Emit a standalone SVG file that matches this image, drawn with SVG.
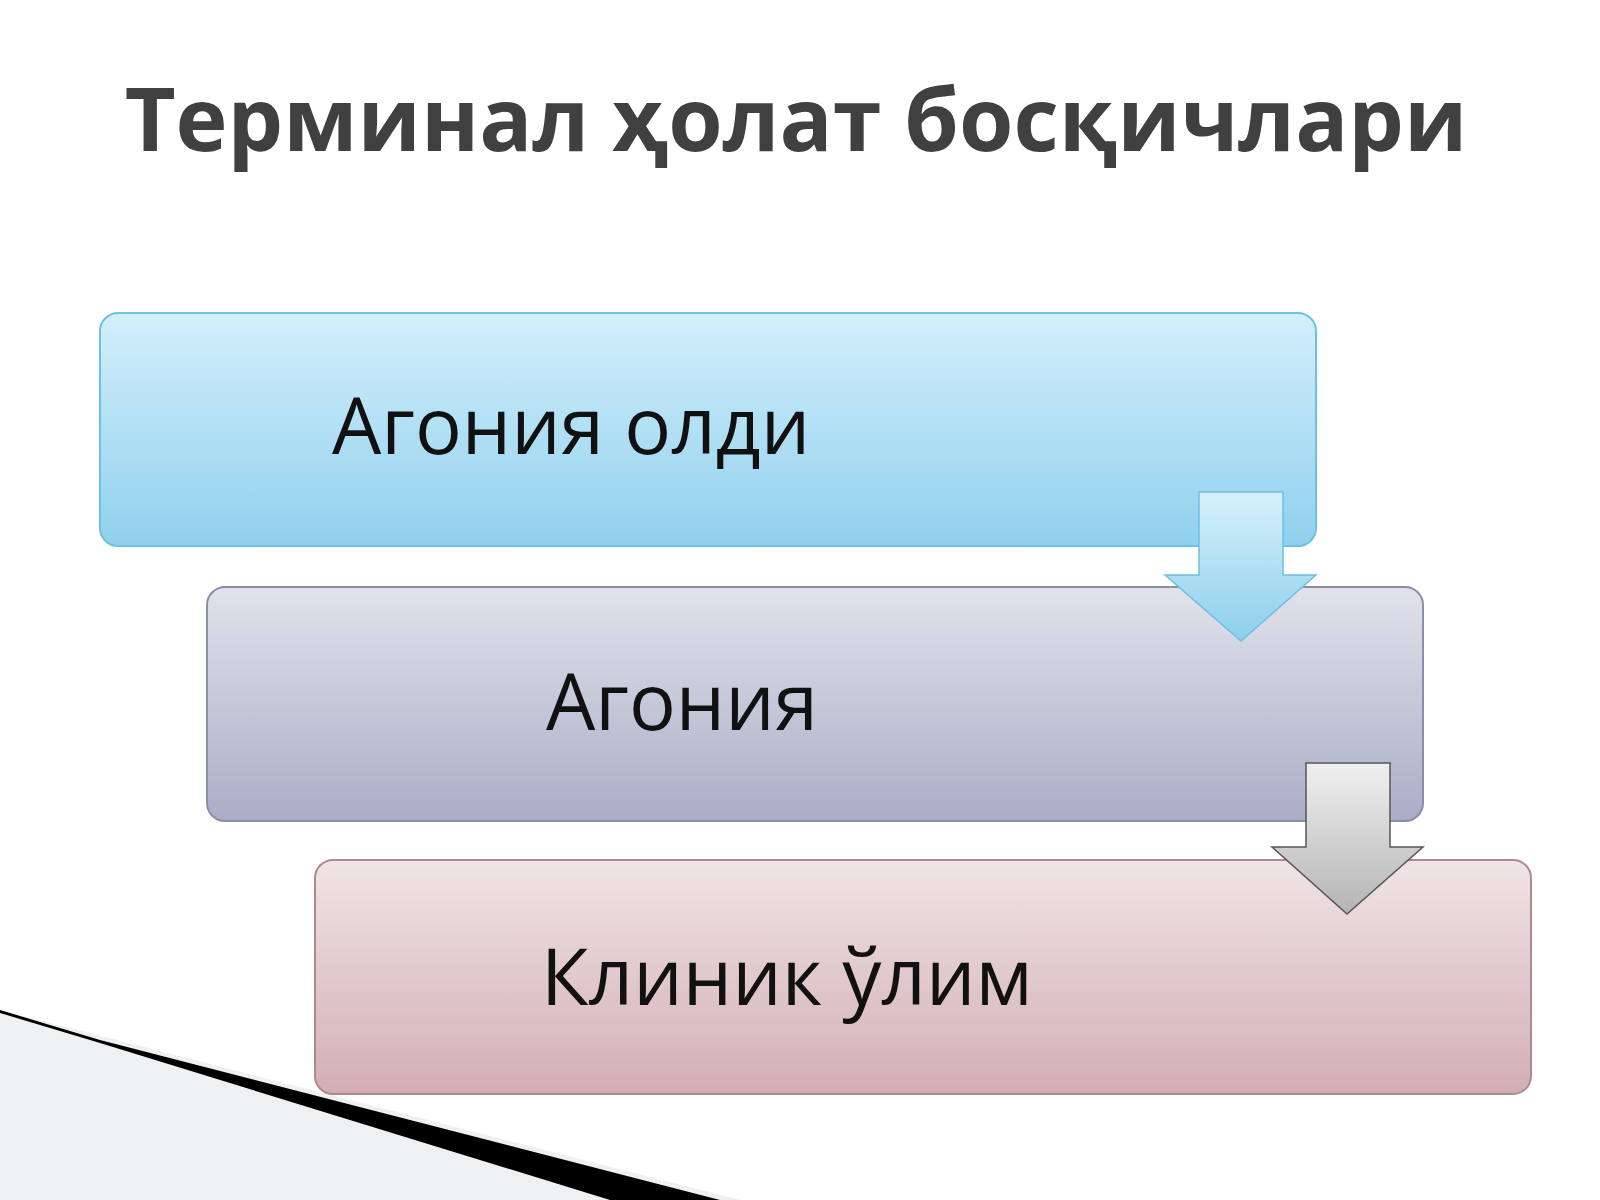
<svg xmlns="http://www.w3.org/2000/svg" width="1600" height="1200" viewBox="0 0 1600 1200">
<defs>
<linearGradient id="g1" x1="0" y1="0" x2="0" y2="1"><stop offset="0" stop-color="#d4effb"/><stop offset="1" stop-color="#8fd0ee"/></linearGradient>
<linearGradient id="g2" x1="0" y1="0" x2="0" y2="1"><stop offset="0" stop-color="#e2e2ec"/><stop offset="1" stop-color="#a9aec6"/></linearGradient>
<linearGradient id="g3" x1="0" y1="0" x2="0" y2="1"><stop offset="0" stop-color="#f0e4e6"/><stop offset="1" stop-color="#d2aeb4"/></linearGradient>
<linearGradient id="a1" x1="0" y1="0" x2="0" y2="1"><stop offset="0" stop-color="#d6f0fb"/><stop offset="1" stop-color="#8dcfec"/></linearGradient>
<linearGradient id="a2" x1="0" y1="0" x2="0" y2="1"><stop offset="0" stop-color="#f0f0f0"/><stop offset="1" stop-color="#b4b4b4"/></linearGradient>
</defs>
<style>
.box{stroke-width:2}
.lbl{font-family:"Open Sans","Noto Sans",sans-serif;font-size:78px;fill:#111}
</style>
<rect width="1600" height="1200" fill="#fff"/>
<polygon points="0,1010 740,1200 0,1200" fill="#eef0f2"/>
<polygon points="0,1010 100,1040 720,1200 610,1200 100,1043 0,1013" fill="#000"/>
<text x="796" y="151" text-anchor="middle" font-family="'Open Sans','Noto Sans',sans-serif" font-size="88" font-weight="bold" fill="#404040">Терминал ҳолат босқичлари</text>
<g id="n1"><rect class="box" x="100" y="313" width="1216" height="233" rx="18" fill="url(#g1)" stroke="#6cc0e0"/><text class="lbl" x="332" y="454">Агония олди</text></g>
<g id="n2"><rect class="box" x="207" y="587" width="1216" height="234" rx="18" fill="url(#g2)" stroke="#8a8fa8"/><text class="lbl" x="546" y="730">Агония</text></g>
<g id="n3"><rect class="box" x="315" y="860" width="1216" height="234" rx="18" fill="url(#g3)" stroke="#b0888e"/><text class="lbl" x="541" y="1005">Клиник ўлим</text></g>
<g id="connectors">
<polygon points="1199,492 1283,492 1283,575 1316,575 1241,641 1165,575 1199,575" fill="url(#a1)" stroke="#6cc0e0" stroke-width="1.5"/>
<polygon points="1306,763 1390,763 1390,847 1423,847 1347,914 1272,847 1306,847" fill="url(#a2)" stroke="#555" stroke-width="1.5"/>
</g>
</svg>
